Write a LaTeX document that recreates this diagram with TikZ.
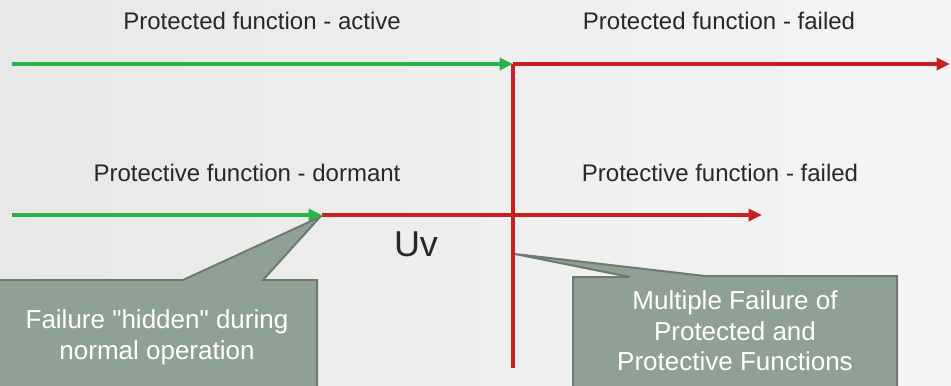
\documentclass[tikz,border=0pt]{standalone}
\usepackage{fontspec}
\setmainfont{Liberation Sans}
\usetikzlibrary{arrows.meta}
\definecolor{gline}{RGB}{45,178,74}
\definecolor{rline}{RGB}{200,32,30}
\definecolor{cfill}{RGB}{143,160,149}
\definecolor{cedge}{RGB}{108,122,112}
\definecolor{txt}{RGB}{40,40,40}
\tikzset{
  greenarrow/.style={draw=gline, line width=2.6pt, -{Triangle[length=10pt,width=9pt]}},
  redarrow/.style={draw=rline, line width=2.6pt, -{Triangle[length=10pt,width=9pt]}},
  redline/.style={draw=rline, line width=2.6pt},
  lbl/.style={text=txt, font=\fontsize{18}{21}\selectfont, inner sep=0pt},
  callout/.style={fill=cfill, draw=cedge, line width=1.5pt, line join=miter},
  ctext/.style={text=white, font=\fontsize{19.5}{23}\selectfont, align=center, inner sep=0pt}
}
\begin{document}
\begin{tikzpicture}[x=0.75pt,y=-0.75pt]
\useasboundingbox (0,0) rectangle (951,386);
\shade[left color=black!9, right color=black!4] (0,0) rectangle (951,386);
\begin{scope}
\clip (0,0) rectangle (951,386);
% coordinates
\coordinate (a0) at (12,64);
\coordinate (a1) at (513,64);
\coordinate (a2) at (950,68);
\coordinate (v1) at (513,368);
\coordinate (b0) at (12,215);
\coordinate (b1) at (322,215);
\coordinate (b2) at (762,215);
% labels
\node[lbl] (t1) at (262,21) {Protected function - active};
\node[lbl] (t2) at (719,21) {Protected function - failed};
\node[lbl] (t3) at (247,173) {Protective function - dormant};
\node[lbl] (t4) at (720,173) {Protective function - failed};
\node[text=txt, font=\fontsize{27}{30}\selectfont, inner sep=0pt] (uv) at (416,244) {Uv};
% lines
\draw[redline] (a1) -- (v1);
\draw[redarrow] (a1) -- (a1 -| a2);
\draw[greenarrow] (a0) -- (a1);
\draw[redarrow] (b1) -- (b2);
\draw[greenarrow] (b0) -- (b1);
% callouts
\coordinate (p1) at (320,217);
\coordinate (p2) at (515,254);
\draw[callout] (-5,280) -- (183,280) -- (p1) -- (263,280) -- (317,280) -- (317,395) -- (-5,395) -- cycle;
\draw[callout] (573,277) -- (630,277) -- (p2) -- (705,276) -- (897,276) -- (897,395) -- (573,395) -- cycle;
\node[ctext] (c1) at (157,337) {Failure \textquotedbl hidden\textquotedbl{} during\\normal operation};
\node[ctext] (c2) at (735,331) {Multiple Failure of\\Protected and\\Protective Functions};
\end{scope}
\end{tikzpicture}
\end{document}
